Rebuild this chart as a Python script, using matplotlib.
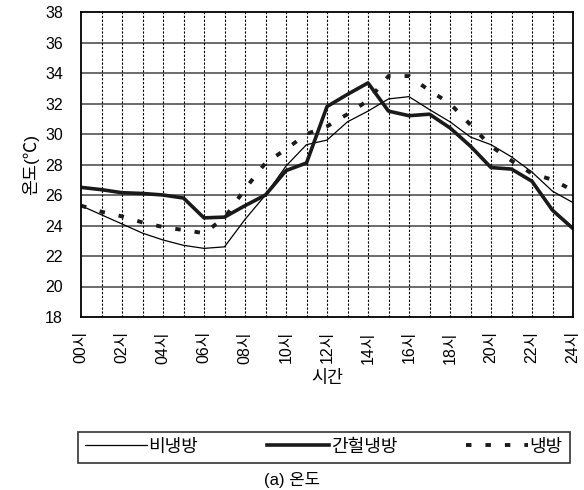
import numpy as np
import matplotlib.pyplot as plt

plt.rcParams['font.family'] = ['Liberation Sans', 'Noto Sans CJK KR']

# 시간별 온도 (℃)
hours = list(range(25))
bi_naengbang = [25.3, 24.7, 24.1, 23.5, 23.05, 22.7, 22.5, 22.6, 24.4, 26.0, 27.9, 29.3, 29.6,
                30.8, 31.5, 32.3, 32.45, 31.6, 30.8, 29.8, 29.3, 28.5, 27.5, 26.25, 25.5]
ganheol = [26.5, 26.35, 26.15, 26.1, 26.0, 25.8, 24.5, 24.55, 25.3, 26.0, 27.6, 28.1, 31.8,
           32.6, 33.35, 31.5, 31.2, 31.3, 30.4, 29.2, 27.8, 27.7, 26.9, 25.0, 23.8]
naengbang = [25.3, 24.9, 24.6, 24.2, 23.9, 23.7, 23.5, 24.5, 26.4, 28.1, 29.0, 30.0, 30.5,
             31.3, 32.2, 33.8, 33.8, 32.85, 32.0, 30.6, 29.2, 28.25, 27.4, 27.0, 26.3]
series_names = ['비냉방', '간헐냉방', '냉방']
xlabels = ['%02d시' % h if h % 2 == 0 else '' for h in hours]
yticks = list(range(18, 39, 2))

fig = plt.figure(figsize=(5.84, 4.90), dpi=100)
ax = fig.add_axes([81/584, 1 - 317/490, 492/584, 305/490])

ax.plot(hours, bi_naengbang, color='black', lw=0.9, label=series_names[0])
ax.plot(hours, ganheol, color='#1a1a1a', lw=2.6, label=series_names[1])
ax.plot(hours, naengbang, color='#1a1a1a', lw=2.8, linestyle=(0, (1.4, 3.6)), label=series_names[2])

ax.set_xlim(0, 24)
ax.set_ylim(18, 38)
ax.set_xticks(hours)
ax.set_xticklabels(xlabels, rotation=90, fontsize=11.5)
ax.set_yticks(yticks)
ax.tick_params(axis='y', labelsize=11.5, length=0, pad=13)
ax.tick_params(axis='x', length=0, pad=10)

# 가로 격자는 실선, 세로 격자는 점선
for y in yticks[1:-1]:
    ax.axhline(y, color='#444444', lw=1.1, zorder=0)
for h in hours[1:-1]:
    ax.axvline(h, color='black', lw=0.8, linestyle=(0, (2, 1.5)), zorder=0)

for s in ax.spines.values():
    s.set_linewidth(1.3)

ax.set_xlabel('시간', fontsize=12.5, labelpad=5)
ax.set_ylabel('온도(℃)', fontsize=12.5, labelpad=4)

leg = fig.legend(loc='lower left', bbox_to_anchor=(78/584, 1 - 463/490, 492/584, 31/490),
                 mode='expand', ncol=3, fontsize=13, frameon=True, fancybox=False,
                 edgecolor='black', handlelength=3.4, handletextpad=0.1, borderaxespad=0)
leg.get_frame().set_linewidth(1.2)

fig.text(0.5, 1 - 480/490, '(a) 온도', ha='center', va='center', fontsize=12)

fig.savefig('out.png', dpi=100)
